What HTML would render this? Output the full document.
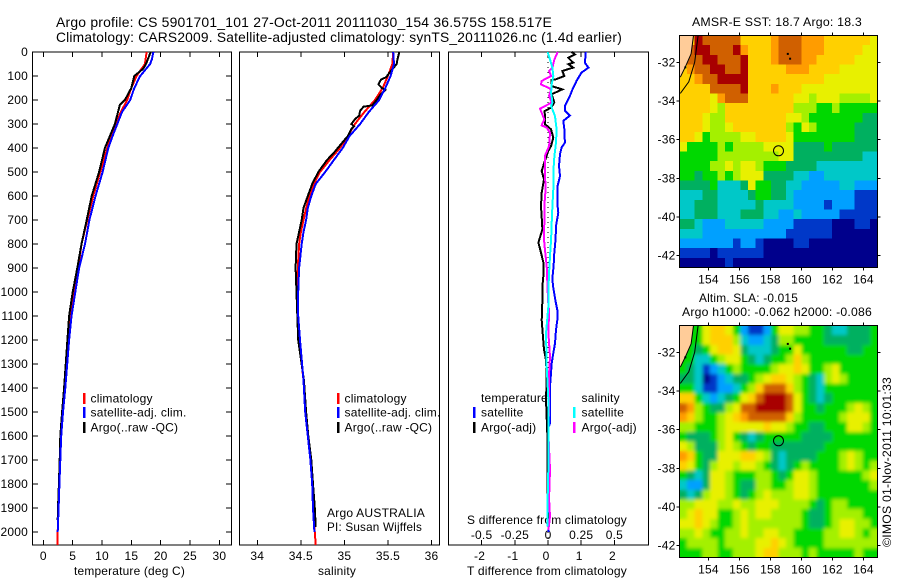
<!DOCTYPE html>
<html lang="en">
<head>
<meta charset="utf-8">
<title>Argo profile chart</title>
<style>
html,body{margin:0;padding:0;background:#fff;}
#chart{display:block;position:absolute;left:0;top:0;}
text{font-family:"Liberation Sans",Arial,sans-serif;font-size:12px;fill:#000;letter-spacing:0.2px;}
.title{font-size:14px;}
</style>
</head>
<body>
<svg id="chart" xmlns="http://www.w3.org/2000/svg" width="900" height="580" viewBox="0 0 900 580">
<defs>
<filter id="smooth-field" filterUnits="userSpaceOnUse" x="679.5" y="325.5" width="198" height="232">
<feGaussianBlur in="SourceGraphic" stdDeviation="1.8" result="b"/>
<feMerge><feMergeNode in="SourceGraphic"/><feMergeNode in="b"/></feMerge>
</filter>
</defs>
<rect x="0" y="0" width="900" height="580" fill="#fff"/>
<text class="title" x="56" y="27" textLength="496" lengthAdjust="spacingAndGlyphs">Argo profile: CS 5901701_101 27-Oct-2011 20111030_154 36.575S 158.517E</text>
<text class="title" x="56" y="42" textLength="566" lengthAdjust="spacingAndGlyphs">Climatology: CARS2009. Satellite-adjusted climatology: synTS_20111026.nc (1.4d earlier)</text>
<text x="692" y="26" textLength="170" lengthAdjust="spacingAndGlyphs">AMSR-E SST: 18.7 Argo: 18.3</text>
<text x="699" y="302" textLength="99" lengthAdjust="spacingAndGlyphs">Altim. SLA: -0.015</text>
<text x="682" y="316" textLength="190" lengthAdjust="spacingAndGlyphs">Argo h1000: -0.062 h2000: -0.086</text>
<text transform="translate(891,547) rotate(-90)" textLength="170" lengthAdjust="spacingAndGlyphs">©IMOS 01-Nov-2011 10:01:33</text>
<text x="327" y="517" textLength="98" lengthAdjust="spacingAndGlyphs">Argo AUSTRALIA</text>
<text x="327" y="531" textLength="95" lengthAdjust="spacingAndGlyphs">PI: Susan Wijffels</text>
<text x="467" y="524" textLength="160" lengthAdjust="spacingAndGlyphs">S difference from climatology</text>
<text x="467" y="575" textLength="160" lengthAdjust="spacingAndGlyphs">T difference from climatology</text>
<text x="74" y="575" textLength="111" lengthAdjust="spacingAndGlyphs">temperature (deg C)</text>
<text x="318" y="575" textLength="38" lengthAdjust="spacingAndGlyphs">salinity</text>
</svg>
<script>
// ---------- profile data ----------
const depthTicks = [0,100,200,300,400,500,600,700,800,900,1000,1100,1200,1300,1400,1500,1600,1700,1800,1900,2000];
const tempTicks = [0,5,10,15,20,25,30];
const salTicks = [34,34.5,35,35.5,36];
const salTickLabels = ['34','34.5','35','35.5','36'];
const tDiffTicks = [-2,-1,0,1,2];
const tDiffLabels = ['-2','-1','0','1','2'];
const sDiffTicks = [-0.5,-0.25,0,0.25,0.5];
const sDiffLabels = ['-0.5','-0.25','0','0.25','0.5'];
const lonTicks = [154,156,158,160,162,164];
const latTicks = [-32,-34,-36,-38,-40,-42];

const tempClimDepth = [0,50,100,150,200,250,300,350,400,500,600,700,800,900,1000,1100,1200,1400,1500,1600,1700,1800,1900,2000,2054];
const tempClim = [17.6,17.3,15.9,15.0,14.3,13.2,12.4,11.6,10.9,9.7,8.5,7.5,6.5,5.95,5.15,4.55,4.2,3.65,3.3,3.0,2.85,2.7,2.55,2.45,2.4];
const tempSatDepth = [0,30,50,100,150,200,250,300,350,400,500,600,700,800,900,1000,1100,1200,1400,1500,1600,1700,1800,1900,2000];
const tempSat = [18.75,18.5,18.2,16.5,15.5,14.8,13.4,12.6,11.8,11.07,10.1,8.9,7.85,7.1,6.1,5.45,4.8,4.4,3.75,3.35,3.05,2.9,2.75,2.6,2.45];
const tempArgoDepth = [0,50,70,100,150,200,220,300,400,500,600,700,800,900,1000,1100,1200,1400,1500,1600,1700,1800,1900,1950];
const tempArgo = [18.3,17.5,17.0,15.5,15.0,13.9,13.05,12.2,10.5,9.5,8.25,7.4,6.5,5.8,5.0,4.4,4.1,3.55,3.2,2.9,2.8,2.65,2.5,2.45];

const salClimDepth = [0,50,100,150,200,250,300,350,400,450,500,550,600,650,700,750,800,900,1000,1100,1200,1367,1500,1600,1700,1800,1900,2000,2054];
const salClim = [35.56,35.55,35.5,35.44,35.35,35.23,35.12,35.04,34.95,34.83,34.72,34.65,34.6,34.56,34.53,34.5,34.48,34.465,34.46,34.46,34.48,34.53,34.55,34.58,34.615,34.63,34.64,34.66,34.67];
const salSatDepth = [0,50,100,150,200,250,300,350,400,450,500,550,600,650,700,750,800,900,1000,1100,1200,1367,1500,1600,1700,1800,1900,2000];
const salSat = [35.56,35.57,35.53,35.47,35.4,35.28,35.18,35.06,34.98,34.88,34.78,34.67,34.62,34.58,34.56,34.53,34.51,34.48,34.47,34.47,34.49,34.53,34.55,34.58,34.61,34.63,34.64,34.655];
const salArgoDepth = [0,30,50,85,105,115,135,150,158,175,200,222,228,245,265,280,300,310,320,350,380,420,450,500,550,600,650,700,750,800,900,1000,1200,1367,1500,1600,1700,1800,1900,1980];
const salArgo = [35.63,35.61,35.6,35.52,35.48,35.42,35.39,35.43,35.47,35.42,35.37,35.32,35.22,35.18,35.17,35.12,35.08,35.11,35.08,35.04,34.97,34.88,34.8,34.7,34.63,34.58,34.53,34.51,34.48,34.45,34.44,34.45,34.47,34.535,34.56,34.585,34.62,34.64,34.66,34.67];

const dTempSatDepth = [0,45,65,86,120,155,190,225,245,265,287,320,378,398,426,475,517,558,642,670,725,780,836,892,947,982,1033,1075,1117,1158,1214,1255,1297,1339,1394,1450,1547,1560,2000];
const dTempSat = [1.14,1.11,1.22,1.01,0.86,0.74,0.64,0.51,0.51,0.66,0.46,0.49,0.51,0.41,0.36,0.33,0.36,0.29,0.29,0.31,0.24,0.23,0.19,0.17,0.13,0.16,0.22,0.28,0.28,0.24,0.21,0.16,0.11,0.09,0.06,0.06,0.06,0.02,0.01];
const dTempArgoDepth = [0,10,24,44,51,65,79,100,114,117,142,156,176,211,232,246,301,322,357,392,412,461,496,531,586,642,739,794,836,878,919,975,1033,1117,1172,1241,1283,1353,1450,1589,1811,1978];
const dTempArgo = [0.71,0.81,0.61,0.76,0.61,0.76,0.43,0.49,0.23,0.11,0.11,0.43,0.11,0.19,0.09,-0.1,-0.09,0.09,0.16,0.09,0.01,-0.11,-0.19,-0.12,-0.19,-0.21,-0.17,-0.29,-0.21,-0.14,-0.13,-0.17,-0.17,-0.19,-0.16,-0.12,-0.06,-0.04,-0.06,-0.02,-0.02,0];
const dSalSatDepth = [0,31,65,100,135,169,211,225,267,322,378,433,503,572,642,711,781,850,919,989,1058,1172,1311,1450,1589,1728,1867,1978];
const dSalSat = [-0.003,0.015,0.033,0.04,0.028,0.023,0.033,0.023,0.053,0.065,0.06,0.048,0.04,0.04,0.033,0.028,0.023,0.015,0.008,0.003,0.003,-0.015,-0.01,0.003,0.003,0.003,-0.003,-0.003];
const dSalArgoDepth = [0,31,65,79,100,121,135,149,156,183,211,236,281,306,315,336,392,433,503,572,642,711,781,822,892,989,1058,1075,1172,1269,1339,1450,1589,1741,1825,1866,1936,1991];
const dSalArgo = [0.073,0.048,0.033,0.008,0.023,-0.048,-0.053,0.003,0.023,0.008,0.028,-0.06,-0.028,-0.048,-0.01,0.015,0.008,-0.023,-0.023,-0.018,-0.028,-0.028,-0.03,-0.023,-0.01,-0.003,0.003,0.008,0.003,0.015,0.008,0.008,0.003,0.015,0.01,0.008,0.015,0.003];

// ---------- map data: colour-level per 0.5 degree cell, north to south ----------
const sstRows = [
'88baa aaa88 889aa a9998 888887',
'aabba aab98 889aa a9998 888877',
'8aabb aaab8 889aa a9988 888777',
'89aab baab8 88889 99888 877777',
'889aa bbbb8 88888 88887 777777',
'8888a aaab8 88988 87777 777777',
'88887 9aaa8 88888 77677 766667',
'88887 68888 88888 66655 655555',
'88876 68888 88887 76555 555544',
'88876 67888 88886 57655 555444',
'88756 66677 88887 55555 555444',
'75555 65666 67777 44445 444444',
'55555 66666 66677 44444 444433',
'55556 67677 65554 44433 333333',
'55455 65677 74444 33223 333333',
'44445 33347 55443 32222 233222',
'33344 33334 55443 22222 222111',
'33444 33333 43333 22221 222111',
'33444 33344 43322 32222 211111',
'44322 23333 32222 11111 000110',
'33322 22222 22221 11111 000000',
'22222 22122 10000 11000 000000',
'11110 11111 10000 00000 000000',
'00000 01000 00000 00000 000000'
].map(r => r.replace(/ /g,''));
const slaRows = [
'55578 87521 12577 66554 334445',
'55578 88632 23466 55554 444445',
'55457 88743 33455 75555 554455',
'55335 67754 34556 86555 555555',
'54312 35655 55677 87556 755555',
'44301 23445 67887 65436 765555',
'55311 22356 8aaa8 65435 555555',
'88532 34578 abbba 75434 555555',
'a9654 467aa bbbba 75545 556765',
'98655 6789a aaaa8 65555 567775',
'66555 67777 78776 55445 557765',
'54445 67543 45555 54444 555555',
'76444 67654 55444 44445 555555',
'98544 77788 76434 44455 567655',
'87546 77677 65434 56555 567656',
'54347 76555 66545 77655 555567',
'32247 76544 66556 77655 555556',
'43467 76545 67666 77655 555555',
'66777 66766 77766 66545 665555',
'67877 55676 77666 65445 666655',
'77876 55676 66666 65445 677665',
'66765 56676 67766 55556 677656',
'56666 56666 77876 55556 666666',
'55566 55666 78866 65655 555655'
].map(r => r.replace(/ /g,''));
const levelColors = ['#00008c','#0038c8','#00a0ff','#00c8c8','#00b060','#00d800','#a4f000','#e8f000','#ffd000','#ff9c00','#d06000','#a80000'];
const coastInnerLon = [153.03,152.88,152.5,152.18];
const coastInnerLat = [-30.6,-31.55,-32.24,-32.76];
const coastOuterLon = [153.33,153.11,152.73,152.18];
const coastOuterLat = [-30.6,-31.98,-33.0,-33.6];
const islandLon = [159.05,159.2,152.44];
const islandLat = [-31.5,-31.75,-32.2];
const floatLon = 158.517;
const floatLat = -36.575;
const mapWestLon = 152.13;
const mapNorthLat = -30.6;

// ---------- helpers ----------
const svg = document.getElementById('chart');
const NS = 'http://www.w3.org/2000/svg';
function mk(tag, name, parent) {
  const el = document.createElementNS(NS, tag);
  
  
  (parent || svg).appendChild(el);
  return el;
}
function line(name, x1, y1, x2, y2, parent) {
  const l = mk('line', name, parent);
  l.setAttribute('x1', x1); l.setAttribute('y1', y1);
  l.setAttribute('x2', x2); l.setAttribute('y2', y2);
  l.setAttribute('stroke', '#000');
  l.setAttribute('shape-rendering', 'crispEdges');
  return l;
}
function label(name, str, x, y, anchor, parent) {
  const t = mk('text', name, parent);
  t.setAttribute('x', x); t.setAttribute('y', y);
  t.setAttribute('text-anchor', anchor || 'middle');
  t.textContent = str;
  return t;
}
function yDepth(d) { return 52 + 0.24 * d; }

function panelFrame(name, x0, x1) {
  const g = mk('g', name + '-axes');
  const r = mk('rect', name + '-frame', g);
  r.setAttribute('x', x0); r.setAttribute('y', 52);
  r.setAttribute('width', x1 - x0); r.setAttribute('height', 493);
  r.setAttribute('fill', 'none'); r.setAttribute('stroke', '#000');
  r.setAttribute('shape-rendering', 'crispEdges');
  return g;
}
function series(name, xs, ds, xFn, color, width, parent) {
  const p = mk('polyline', name, parent);
  p.setAttribute('points', xs.map((v, i) => xFn(v).toFixed(1) + ',' + yDepth(ds[i]).toFixed(1)).join(' '));
  p.setAttribute('fill', 'none');
  p.setAttribute('stroke', color);
  p.setAttribute('stroke-width', width);
  p.setAttribute('shape-rendering', 'crispEdges');
  return p;
}
function legendEntry(name, x, y, color, str, textX) {
  const b = mk('rect', name + '-swatch');
  b.setAttribute('x', x); b.setAttribute('y', y);
  b.setAttribute('width', 2.5); b.setAttribute('height', 11);
  b.setAttribute('fill', color);
  label(name + '-label', str, textX, y + 9.5, 'start');
}

// ---------- temperature panel ----------
const xTemp = v => 43.3 + 5.87 * v;
const g1 = panelFrame('temperature-panel', 32.5, 231.5);
tempTicks.forEach(t => {
  const x = xTemp(t);
  line('temperature-tick-top', x, 52, x, 57, g1);
  line('temperature-tick-bottom', x, 540, x, 545, g1);
  label('temperature-tick-label', String(t), x, 560, 'middle', g1);
});
depthTicks.forEach(d => {
  const y = yDepth(d);
  line('depth-tick-left', 33, y, 38, y, g1);
  line('depth-tick-right', 226, y, 231, y, g1);
  label('depth-tick-label', String(d), 28, y + 4, 'end', g1);
});
series('temperature-climatology-line', tempClim, tempClimDepth, xTemp, '#f00', 2, g1);
series('temperature-argo-line', tempArgo, tempArgoDepth, xTemp, '#000', 2, g1);
series('temperature-satellite-line', tempSat, tempSatDepth, xTemp, '#00f', 2, g1);

// ---------- salinity panel ----------
const xSal = v => 257.3 + 87.1 * (v - 34);
const g2 = panelFrame('salinity-panel', 239.5, 439.5);
salTicks.forEach((s, i) => {
  const x = xSal(s);
  line('salinity-tick-top', x, 52, x, 57, g2);
  line('salinity-tick-bottom', x, 540, x, 545, g2);
  label('salinity-tick-label', salTickLabels[i], x, 560, 'middle', g2);
});
series('salinity-climatology-line', salClim, salClimDepth, xSal, '#f00', 2, g2);
series('salinity-argo-line', salArgo, salArgoDepth, xSal, '#000', 2, g2);
series('salinity-satellite-line', salSat, salSatDepth, xSal, '#00f', 2, g2);

// ---------- difference panel ----------
const xDiff = v => 548 + 33.2 * v;
const xDiffS = v => 548 + 33.2 * 4 * v;
const g3 = panelFrame('difference-panel', 448.5, 648.5);
tDiffTicks.forEach((t, i) => {
  const x = xDiff(t);
  line('t-difference-tick-top', x, 52, x, 57, g3);
  line('t-difference-tick-bottom', x, 540, x, 545, g3);
  label('t-difference-tick-label', tDiffLabels[i], x - 2, 560, 'middle', g3);
});
sDiffTicks.forEach((s, i) => {
  label('s-difference-tick-label', sDiffLabels[i], xDiffS(s), 539, 'middle', g3);
});
const zero = mk('line', 'zero-difference-line', g3);
zero.setAttribute('x1', 548); zero.setAttribute('x2', 548);
zero.setAttribute('y1', 52); zero.setAttribute('y2', 545);
zero.setAttribute('stroke', '#000');
zero.setAttribute('stroke-dasharray', '1 4');
zero.setAttribute('shape-rendering', 'crispEdges');
series('t-difference-satellite-line', dTempSat, dTempSatDepth, xDiff, '#00f', 2, g3);
series('t-difference-argo-line', dTempArgo, dTempArgoDepth, xDiff, '#000', 2, g3);
series('s-difference-argo-line', dSalArgo, dSalArgoDepth, xDiffS, '#f0f', 2, g3);
series('s-difference-satellite-line', dSalSat, dSalSatDepth, xDiffS, '#0ff', 2, g3);

// ---------- legends ----------
legendEntry('legend-temperature-climatology', 83, 393, '#f00', 'climatology', 90.5);
legendEntry('legend-temperature-satellite', 83, 407, '#00f', 'satellite-adj. clim.', 90.5);
legendEntry('legend-temperature-argo', 83, 422, '#000', 'Argo(..raw -QC)', 90.5);
legendEntry('legend-salinity-climatology', 337, 393, '#f00', 'climatology', 344.5);
legendEntry('legend-salinity-satellite', 337, 407, '#00f', 'satellite-adj. clim.', 344.5);
legendEntry('legend-salinity-argo', 337, 422, '#000', 'Argo(..raw -QC)', 344.5);
label('legend-difference-temperature-heading', 'temperature', 481, 402, 'start');
label('legend-difference-salinity-heading', 'salinity', 581.5, 402, 'start');
legendEntry('legend-t-difference-satellite', 473, 407, '#00f', 'satellite', 481);
legendEntry('legend-t-difference-argo', 473, 422, '#000', 'Argo(-adj)', 481);
legendEntry('legend-s-difference-satellite', 573, 407, '#0ff', 'satellite', 581.5);
legendEntry('legend-s-difference-argo', 573, 422, '#f0f', 'Argo(-adj)', 581.5);

// ---------- maps ----------
function drawMap(name, rows, top, smooth) {
  const x0 = 679.5, x1 = 877.5, h = 232;
  const xLon = lon => x0 + (lon - mapWestLon) * 15.5;
  const yLat = lat => top + (mapNorthLat - lat) * 19.3;
  const g = mk('g', name);
  const field = mk('g', name + '-field', g);
  if (smooth) field.setAttribute('filter', 'url(#smooth-field)');
  const nr = rows.length;
  rows.forEach((row, r) => {
    const chars = row.split('');
    const cw = (x1 - x0) / chars.length, ch = h / nr;
    chars.forEach((c, k) => {
      const cell = mk('rect', name + '-cell', field);
      cell.setAttribute('x', (x0 + k * cw).toFixed(2));
      cell.setAttribute('y', (top + r * ch).toFixed(2));
      cell.setAttribute('width', (k === chars.length - 1 ? cw : cw + 0.5).toFixed(2));
      cell.setAttribute('height', (r === nr - 1 ? ch : ch + 0.5).toFixed(2));
      cell.setAttribute('fill', levelColors[parseInt(c, 16)]);
      cell.setAttribute('shape-rendering', 'crispEdges');
    });
  });
  const land = mk('polygon', name + '-land', g);
  land.setAttribute('points', x0 + ',' + top + ' ' + coastInnerLon.map((v, i) => xLon(v).toFixed(1) + ',' + yLat(coastInnerLat[i]).toFixed(1)).join(' ') + ' ' + x0 + ',' + yLat(coastInnerLat[coastInnerLat.length - 1]).toFixed(1));
  land.setAttribute('fill', '#ffcc99');
  [[coastInnerLon, coastInnerLat, 'inner'], [coastOuterLon, coastOuterLat, 'outer']].forEach(c => {
    const p = mk('polyline', name + '-coast-' + c[2], g);
    p.setAttribute('points', c[0].map((v, i) => xLon(v).toFixed(1) + ',' + yLat(c[1][i]).toFixed(1)).join(' '));
    p.setAttribute('fill', 'none');
    p.setAttribute('stroke', '#000');
  });
  islandLon.forEach((v, i) => {
    const d = mk('rect', name + '-island', g);
    d.setAttribute('x', xLon(v).toFixed(1));
    d.setAttribute('y', yLat(islandLat[i]).toFixed(1));
    d.setAttribute('width', 2); d.setAttribute('height', 2);
    d.setAttribute('fill', '#000');
  });
  const f = mk('rect', name + '-frame', g);
  f.setAttribute('x', x0); f.setAttribute('y', top);
  f.setAttribute('width', x1 - x0); f.setAttribute('height', h);
  f.setAttribute('fill', 'none'); f.setAttribute('stroke', '#000');
  f.setAttribute('shape-rendering', 'crispEdges');
  lonTicks.forEach(lon => {
    const x = xLon(lon);
    line(name + '-lon-tick-top', x, top - 3, x, top, g);
    line(name + '-lon-tick-bottom', x, top + h, x, top + h + 3, g);
    label(name + '-lon-tick-label', String(lon), x, top + h + 16, 'middle', g);
  });
  latTicks.forEach(lat => {
    const y = yLat(lat);
    line(name + '-lat-tick-left', x0 - 3, y, x0, y, g);
    line(name + '-lat-tick-right', x1, y, x1 + 3, y, g);
    label(name + '-lat-tick-label', String(lat), x0 - 4, y + 4, 'end', g);
  });
  const c = mk('circle', name + '-argo-float-marker', g);
  c.setAttribute('cx', xLon(floatLon).toFixed(1));
  c.setAttribute('cy', yLat(floatLat).toFixed(1));
  c.setAttribute('r', 5);
  c.setAttribute('fill', 'none');
  c.setAttribute('stroke', '#000');
}
drawMap('sst-map', sstRows, 35.5, false);
drawMap('sla-map', slaRows, 325.5, true);
</script>
</body>
</html>
